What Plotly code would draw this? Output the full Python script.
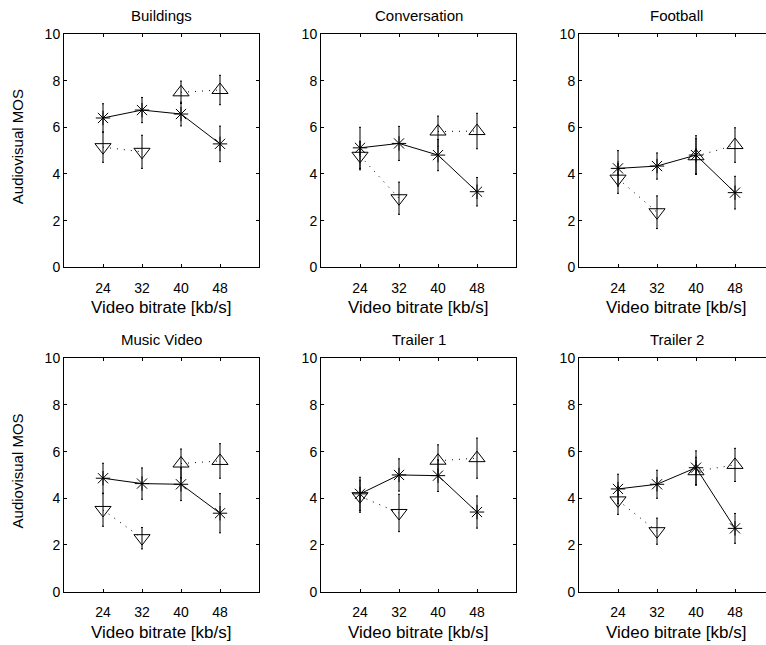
import plotly.graph_objects as go

# Video bitrates tested (kb/s)
bitrates = [24, 32, 40, 48]
low_rates = [24, 32]
high_rates = [40, 48]

titles = ["Buildings", "Conversation", "Football", "Music Video", "Trailer 1", "Trailer 2"]

# Audiovisual MOS per content, main condition (asterisks, solid line)
mos_main = [
    [6.40, 6.74, 6.57, 5.29],
    [5.12, 5.31, 4.81, 3.24],
    [4.24, 4.34, 4.81, 3.20],
    [4.86, 4.63, 4.60, 3.36],
    [4.19, 5.00, 4.97, 3.41],
    [4.40, 4.60, 5.31, 2.71],
]
ci_main = [
    [0.61, 0.54, 0.51, 0.76],
    [0.88, 0.73, 0.67, 0.61],
    [0.76, 0.56, 0.83, 0.70],
    [0.64, 0.67, 0.70, 0.84],
    [0.71, 0.69, 0.68, 0.69],
    [0.63, 0.60, 0.72, 0.64],
]

# Low bitrates, alternative condition (down triangles, dotted)
mos_low = [
    [5.15, 4.95],
    [4.78, 2.96],
    [3.80, 2.36],
    [3.50, 2.29],
    [4.09, 3.37],
    [3.91, 2.59],
]
ci_low = [
    [0.65, 0.71],
    [0.60, 0.69],
    [0.63, 0.70],
    [0.70, 0.46],
    [0.69, 0.80],
    [0.60, 0.56],
]

# High bitrates, alternative condition (up triangles, dotted)
mos_high = [
    [7.50, 7.60],
    [5.82, 5.84],
    [4.76, 5.24],
    [5.49, 5.60],
    [5.61, 5.72],
    [5.16, 5.43],
]
ci_high = [
    [0.48, 0.63],
    [0.66, 0.76],
    [0.75, 0.74],
    [0.62, 0.74],
    [0.68, 0.86],
    [0.60, 0.71],
]

W, H = 766, 645
col_left = [64, 321, 579]   # px
panel_w = 195
row_top = [34, 358.3]       # px
panel_h = 233.3
x_lo, x_hi = 16, 56
px_per_unit = panel_w / (x_hi - x_lo)

FONT = "Liberation Sans, Arial, Helvetica, sans-serif"
BLACK = "#000000"

fig = go.Figure()
layout = {}
annotations = []

for i, title in enumerate(titles):
    r, c = divmod(i, 3)
    ax = "" if i == 0 else str(i + 1)
    xref, yref = "x" + ax, "y" + ax

    left = col_left[c]
    right = min(left + panel_w, W)          # last column runs off the page edge
    x_max = x_lo + (right - left) / px_per_unit
    top = row_top[r]
    bottom = top + panel_h

    layout["xaxis" + ax] = dict(
        domain=[left / W, right / W], anchor=yref, range=[x_lo, x_max],
        tickvals=bitrates, ticks="inside", ticklen=3, tickcolor=BLACK,
        showline=True, linecolor=BLACK, linewidth=1, mirror="ticks",
        showgrid=False, zeroline=False, fixedrange=True, automargin=False,
        ticklabelstandoff=8,
        tickfont=dict(family=FONT, size=14, color=BLACK),
    )
    layout["yaxis" + ax] = dict(
        domain=[1 - bottom / H, 1 - top / H], anchor=xref, range=[0, 10],
        dtick=2, ticks="inside", ticklen=3, tickcolor=BLACK,
        showline=True, linecolor=BLACK, linewidth=1,
        mirror="ticks" if c < 2 else False,
        showgrid=False, zeroline=False, fixedrange=True, automargin=False,
        tickfont=dict(family=FONT, size=14, color=BLACK),
    )

    cx = (left + panel_w / 2) / W
    annotations.append(dict(
        text=title, xref="paper", yref="paper", x=cx, y=1 - (top - 8) / H,
        xanchor="center", yanchor="bottom", showarrow=False,
        font=dict(family=FONT, size=15, color=BLACK),
    ))
    annotations.append(dict(
        text="Video bitrate [kb/s]", xref="paper", yref="paper", x=cx,
        y=1 - (bottom + 29) / H, xanchor="center", yanchor="top",
        showarrow=False, font=dict(family=FONT, size=17, color=BLACK),
    ))
    if c == 0:
        annotations.append(dict(
            text="Audiovisual MOS", xref="paper", yref="paper", x=17.5 / W,
            y=1 - (top + panel_h / 2 - 4) / H, xanchor="center", yanchor="middle",
            textangle=-90, showarrow=False,
            font=dict(family=FONT, size=15, color=BLACK),
        ))

    err_style = dict(type="data", thickness=1, width=1, color=BLACK)

    fig.add_trace(go.Scatter(
        x=low_rates, y=mos_low[i], mode="lines+markers", xaxis=xref, yaxis=yref,
        line=dict(color=BLACK, width=1, dash="1px,6px"),
        marker=dict(symbol="triangle-down-open", size=14, color=BLACK,
                    line=dict(width=1, color=BLACK)),
        error_y=dict(array=ci_low[i], **err_style),
        showlegend=False, cliponaxis=False,
    ))
    fig.add_trace(go.Scatter(
        x=high_rates, y=mos_high[i], mode="lines+markers", xaxis=xref, yaxis=yref,
        line=dict(color=BLACK, width=1, dash="1px,6px"),
        marker=dict(symbol="triangle-up-open", size=14, color=BLACK,
                    line=dict(width=1, color=BLACK)),
        error_y=dict(array=ci_high[i], **err_style),
        showlegend=False, cliponaxis=False,
    ))
    fig.add_trace(go.Scatter(
        x=bitrates, y=mos_main[i], mode="lines+markers", xaxis=xref, yaxis=yref,
        line=dict(color=BLACK, width=1),
        marker=dict(symbol="asterisk-open", size=12, color=BLACK,
                    line=dict(width=1, color=BLACK)),
        error_y=dict(array=ci_main[i], **err_style),
        showlegend=False, cliponaxis=False,
    ))

fig.update_layout(
    width=W, height=H, margin=dict(l=0, r=0, t=0, b=0),
    paper_bgcolor="white", plot_bgcolor="white",
    annotations=annotations, **layout,
)

fig.write_html("out.html")
